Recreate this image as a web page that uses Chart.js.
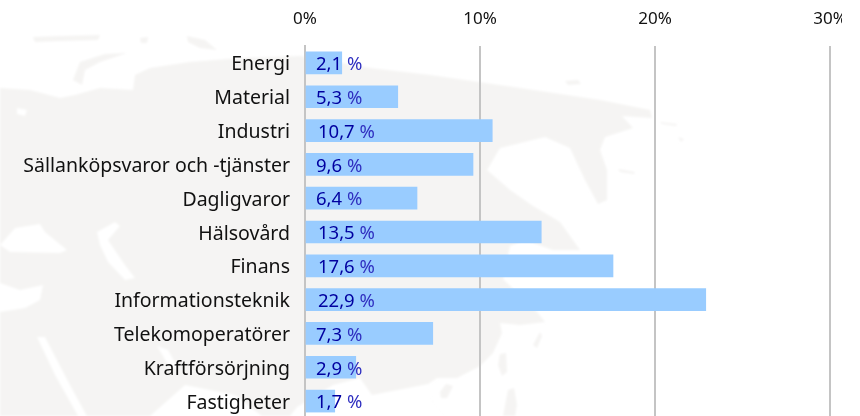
<!DOCTYPE html>
<html>
<head>
<meta charset="utf-8">
<script src="https://cdn.jsdelivr.net/npm/chart.js@4"></script>
<style>
  html, body { margin: 0; padding: 0; background: #fff; overflow: hidden; }
  #wrap { position: relative; width: 860px; height: 416px; overflow: hidden; }
  #map { position: absolute; left: 0; top: 0; }
  #sectorChart { position: absolute; left: 0; top: 0; }
</style>
</head>
<body>
<div id="wrap">
  <!-- faint world map behind the chart -->
  <svg id="map" width="860" height="416" viewBox="0 0 860 416">
    <defs><filter id="soft"><feGaussianBlur stdDeviation="0.8"/></filter></defs>
    <g filter="url(#soft)">
    <g fill="#f5f4f3">
      <path d="M0 88 L30 90 L60 98 L75 95 L100 88 L133 90 L135 75 L150 68 L190 62 L240 58 L300 56 L370 68 L430 75 L520 88 L600 100 L650 110 L652 118 L622 116 L633 128 L605 137 L600 150 L607 170 L607 200 L598 204 L585 180 L570 148 L545 137 L500 148 L487 170 L510 190 L533 206 L560 222 L580 250 L553 250 L525 240 L510 246 L503 279 L537 312 L545 322 L520 325 L500 323 L502 333 L493 353 L480 366 L457 378 L437 378 L428 384 L433 403 L445 416 L0 416 Z"/>
      <path d="M33 37 L60 36 L100 35 L98 40 L60 41 L35 42 Z"/>
      <path d="M187 36 L205 40 L217 50 L200 48 L188 42 Z"/>
      <path d="M73 80 L80 62 L105 54 L127 53 L100 62 L85 70 L82 85 Z"/>
      <path d="M140 38 L148 37 L147 43 L141 43 Z"/>
      <path d="M565 81 L578 80 L581 84 L568 85 Z"/>
      <path d="M660 122 L677 124 L676 126 L662 124 Z"/>
      <path d="M678 137 L684 139 L681 142 Z"/>
      <path d="M618 169 L635 172 L634 174 L620 172 Z"/>
      <path d="M500 354 L506 353 L507 372 L502 376 L498 365 Z"/>
      <path d="M503 416 L508 390 L514 388 L517 405 L515 416 Z"/>
      <path d="M533 345 L540 332 L542 336 L537 348 Z"/>
    </g>
    <g fill="#fff">
      <path d="M0 245 L15 228 L40 224 L45 232 L67 250 L60 253 L10 252 Z"/>
      <path d="M97 232 L115 222 L120 226 L108 240 L125 265 L135 278 L125 280 L108 262 L100 245 Z"/>
      <path d="M0 283 L20 290 L43 285 L40 300 L25 308 L0 312 Z"/>
      <path d="M37 337 L45 337 L70 385 L87 416 L78 416 L55 375 Z"/>
      <path d="M17 108 L27 110 L25 116 L17 114 Z"/>
      <path d="M157 346 L168 350 L178 368 L170 368 Z"/>
      <path d="M150 416 L185 385 L235 395 L262 416 Z"/>
      <path d="M290 416 L297 407 L333 385 L360 378 L372 395 L428 384 L433 403 L445 416 Z"/>
    </g>
    <path fill="#f5f4f3" d="M440 392 L446 384 L453 386 L447 398 L441 398 Z"/>
    </g>
  </svg>
  <canvas id="sectorChart" width="842" height="418"></canvas>
</div>
<script>
const categories = ["Energi", "Material", "Industri", "Sällanköpsvaror och -tjänster", "Dagligvaror", "Hälsovård",
    "Finans", "Informationsteknik", "Telekomoperatörer", "Kraftförsörjning", "Fastigheter"];
const weights = [2.1, 5.3, 10.7, 9.6, 6.4, 13.5, 17.6, 22.9, 7.3, 2.9, 1.7];
const xTicks = [0, 10, 20, 30];

const FONT = "'Noto Sans', sans-serif";

// Draw the "2,1 %" labels next to the axis, on top of the bars
const valueLabels = {
    id: 'valueLabels',
    afterDatasetsDraw(chart) {
        const ctx = chart.ctx;
        const x0 = chart.scales.x.getPixelForValue(0);
        ctx.save();
        ctx.font = "18.5px " + FONT;
        ctx.textBaseline = "middle";
        ctx.textAlign = "left";
        chart.getDatasetMeta(0).data.forEach((bar, i) => {
            const txt = weights[i].toFixed(1).replace(".", ",");
            const x = x0 + (weights[i] >= 10 ? 13 : 11);
            ctx.fillStyle = "#0000a0";
            ctx.fillText(txt, x, bar.y + 2);
            const w = ctx.measureText(txt + " ").width;
            ctx.fillStyle = "#3030c0";
            ctx.fillText("%", x + w, bar.y + 2);
        });
        ctx.restore();
    }
};

new Chart("sectorChart", {
    type: "bar",
    data: {
        labels: categories,
        datasets: [{
            data: weights,
            backgroundColor: "#99ccff",
            borderWidth: 0,
            barThickness: 22,
        }]
    },
    options: {
        indexAxis: "y",
        responsive: false,
        maintainAspectRatio: false,
        animation: false,
        layout: {padding: 0},
        plugins: {legend: {display: false}, tooltip: {enabled: false}},
        scales: {
            x: {
                position: "top",
                min: 0,
                max: 30,
                afterBuildTicks: axis => { axis.ticks = xTicks.map(v => ({value: v})); },
                afterFit: axis => { axis.height = 46; axis.paddingRight = 12; axis.paddingLeft = 0; },
                ticks: {
                    padding: 17,
                    maxRotation: 0,
                    color: "#111",
                    font: {family: FONT, size: 17},
                    callback: value => value + "%",
                },
                grid: {color: "#c4c4c4", lineWidth: 2, drawTicks: false},
                border: {display: false},
            },
            y: {
                afterFit: axis => { axis.width = 305; axis.paddingTop = 0; axis.paddingBottom = 0; },
                ticks: {
                    padding: 15,
                    labelOffset: 2,
                    autoSkip: false,
                    color: "#111",
                    font: {family: FONT, size: 19.5},
                },
                grid: {display: false, drawTicks: false},
                border: {color: "#c4c4c4", width: 2},
            },
        }
    },
    plugins: [valueLabels],
});
</script>
</body>
</html>
